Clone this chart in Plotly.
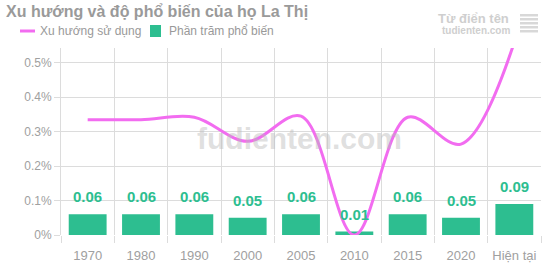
import plotly.graph_objects as go

categories = ["1970", "1980", "1990", "2000", "2005", "2010", "2015", "2020", "Hiện tại"]
trend_values = [0.335, 0.335, 0.342, 0.272, 0.345, 0.0, 0.342, 0.264, 0.56]
percent_values = [0.06, 0.06, 0.06, 0.05, 0.06, 0.01, 0.06, 0.05, 0.09]
y_tick_vals = [0, 0.1, 0.2, 0.3, 0.4, 0.5]
y_tick_text = ["0%", "0.1%", "0.2%", "0.3%", "0.4%", "0.5%"]

LINE_COLOR = "#f26cf0"
BAR_COLOR = "#2dbe90"
GRID = "#dcdcdc"
FONT = "Liberation Sans, Arial, sans-serif"

fig = go.Figure()
fig.add_trace(go.Bar(
    x=categories, y=percent_values, name="Phần trăm phổ biến",
    marker=dict(color=BAR_COLOR, line=dict(width=0)),
    width=0.71,
))
fig.add_trace(go.Scatter(
    x=categories, y=trend_values, name="Xu hướng sử dụng",
    mode="lines", line=dict(color=LINE_COLOR, width=3, shape="spline", smoothing=1.0),
))
for i, v in enumerate(percent_values):
    fig.add_annotation(x=i, y=v, xref="x", yref="y", text=f"<b>{v:.2f}</b>",
                       showarrow=False, yanchor="bottom", yshift=7,
                       font=dict(color=BAR_COLOR, size=15, family=FONT))

fig.update_layout(
    width=550, height=275,
    margin=dict(l=61, r=9, t=48, b=40),
    paper_bgcolor="white", plot_bgcolor="white",
    font=dict(family=FONT, color="#999999", size=12),
    showlegend=False,
    xaxis=dict(
        type="category", tickson="boundaries", showgrid=True, gridcolor=GRID, gridwidth=1,
        ticks="outside", ticklen=7, tickcolor=GRID, showline=False, zeroline=False,
        range=[-0.5, len(categories) - 0.5], tickangle=0,
        ticklabelstandoff=11,
        tickfont=dict(size=13, color="#a0a0a0", family=FONT),
    ),
    yaxis=dict(
        range=[0, 0.543], tickvals=y_tick_vals, ticktext=y_tick_text,
        showgrid=True, gridcolor=GRID, gridwidth=1, zeroline=False,
        ticks="outside", ticklen=6, tickcolor=GRID,
        showline=True, linecolor=GRID,
        tickfont=dict(size=12, color="#a0a0a0", family=FONT),
    ),
)

def px_(xpix):
    return (xpix - 61) / 480

def py_(ypix):
    return (235 - ypix) / 187

# title
fig.add_annotation(xref="paper", yref="paper", x=px_(4), y=py_(12),
                   xanchor="left", yanchor="middle", showarrow=False,
                   text="<b>Xu hướng và độ phổ biến của họ La Thị</b>",
                   font=dict(size=16, color="#9a9a9a", family=FONT))
# legend (manual)
fig.add_shape(type="line", xref="paper", yref="paper",
              x0=px_(20), x1=px_(35), y0=py_(31), y1=py_(31),
              line=dict(color=LINE_COLOR, width=3))
fig.add_annotation(xref="paper", yref="paper", x=px_(38), y=py_(31),
                   xanchor="left", yanchor="middle", showarrow=False,
                   text="Xu hướng sử dụng", font=dict(size=12, color="#999999", family=FONT))
fig.add_shape(type="rect", xref="paper", yref="paper",
              x0=px_(150), x1=px_(161), y0=py_(37), y1=py_(25),
              line=dict(width=0), fillcolor=BAR_COLOR)
fig.add_annotation(xref="paper", yref="paper", x=px_(167), y=py_(31),
                   xanchor="left", yanchor="middle", showarrow=False,
                   text="Phần trăm phổ biến", font=dict(size=12, color="#999999", family=FONT))
# logo text top right
fig.add_annotation(xref="paper", yref="paper", x=px_(511), y=py_(18),
                   xanchor="right", yanchor="middle", showarrow=False,
                   text="<b>Từ điển tên</b>", font=dict(size=13, color="#cfcfcf", family=FONT))
fig.add_annotation(xref="paper", yref="paper", x=px_(512), y=py_(30),
                   xanchor="right", yanchor="middle", showarrow=False,
                   text="<b>tudienten.com</b>", font=dict(size=10, color="#cfcfcf", family=FONT))
for k in range(5):
    fig.add_shape(type="rect", xref="paper", yref="paper",
                  x0=px_(520), x1=px_(538),
                  y0=py_(14 + k * 4 + 2.5), y1=py_(14 + k * 4),
                  line=dict(width=0), fillcolor="#d8d8d8")
# watermark
fig.add_annotation(xref="paper", yref="paper", x=px_(299), y=py_(138),
                   xanchor="center", yanchor="middle", showarrow=False,
                   text="<b>fudienten.com</b>", font=dict(size=30, color="rgba(185,185,185,0.45)", family=FONT))

fig.write_html("out.html")
